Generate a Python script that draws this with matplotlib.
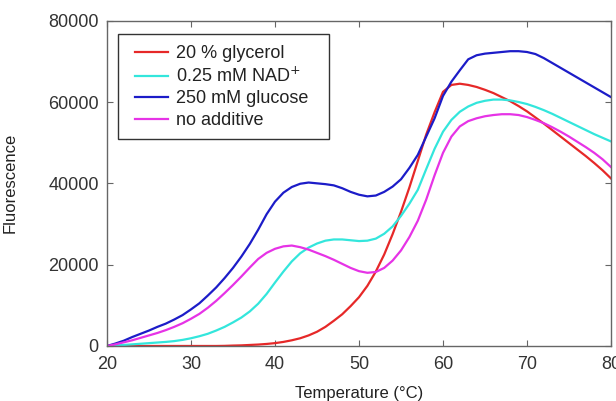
import numpy as np
import matplotlib
matplotlib.use('Agg')
import matplotlib.pyplot as plt
from matplotlib.patches import Rectangle

plt.rcParams['font.family'] = ['Liberation Sans', 'DejaVu Sans']

# temperature in degrees C, one reading per degree
temp = np.arange(20, 81)

glycerol = [0, 0, 0, 0, 0, 0, 0, 0, 0, 0,
            0, 0, 0, 0, 30, 100, 150, 250, 350, 500,
            700, 1000, 1400, 1900, 2600, 3500, 4700, 6200, 7800, 9800,
            12000, 14800, 18300, 22500, 27500, 33000, 39000, 45500, 52000, 57500,
            62500, 64200, 64500, 64200, 63700, 63000, 62200, 61200, 60200, 59000,
            57700, 56200, 54700, 53100, 51500, 49900, 48300, 46700, 45000, 43200,
            41200]

nad = [0, 100, 250, 400, 550, 700, 850, 1000, 1200, 1500,
       1900, 2400, 3000, 3800, 4700, 5800, 7000, 8500, 10400, 12800,
       15600, 18300, 20800, 22800, 24200, 25200, 25900, 26200, 26200, 26000,
       25800, 25900, 26400, 27600, 29400, 32000, 35000, 38400, 43500, 48500,
       52700, 55600, 57600, 58900, 59800, 60300, 60600, 60600, 60400, 60000,
       59500, 58800, 58000, 57100, 56100, 55100, 54100, 53100, 52100, 51200,
       50300]

glucose = [0, 600, 1300, 2200, 3000, 3800, 4700, 5500, 6500, 7600,
           9000, 10500, 12400, 14400, 16700, 19200, 22000, 25100, 28600, 32400,
           35500, 37700, 39100, 39900, 40200, 40000, 39800, 39500, 38800, 37900,
           37200, 36800, 37000, 37900, 39200, 41000, 43800, 47000, 51500, 56000,
           61500, 65000, 67800, 70500, 71500, 71900, 72100, 72300, 72500, 72500,
           72300, 71800, 70800, 69600, 68400, 67200, 66000, 64800, 63600, 62400,
           61200]

no_additive = [0, 400, 900, 1400, 2000, 2600, 3200, 3900, 4700, 5600,
               6700, 7900, 9400, 11100, 13000, 15000, 17100, 19300, 21400, 22900,
               23900, 24500, 24700, 24300, 23700, 22900, 22100, 21200, 20200, 19200,
               18400, 18000, 18200, 19200, 21000, 23500, 26800, 30800, 36000, 42000,
               47500, 51500, 54000, 55300, 56000, 56500, 56800, 57000, 57000, 56800,
               56300, 55600, 54800, 53800, 52700, 51500, 50200, 48900, 47500, 45900,
               44000]

series = [
    (glycerol, '20 % glycerol', '#e62828'),
    (nad, '0.25 mM NAD$^{+}$', '#33e6dc'),
    (glucose, '250 mM glucose', '#1c1cc8'),
    (no_additive, 'no additive', '#e633e6'),
]

fig = plt.figure(figsize=(6.16, 4.01), dpi=100)
ax = fig.add_axes([0.1737, 0.1372, 0.8182, 0.8112])

for vals, lab, col in series:
    ax.plot(temp, vals, color=col, lw=1.6, label=lab)

ax.set_xlim(20, 80)
ax.set_ylim(0, 80000)
ax.set_xticks([20, 30, 40, 50, 60, 70, 80])
ax.set_yticks([0, 20000, 40000, 60000, 80000])

for sp in ax.spines.values():
    sp.set_color('#666666')
    sp.set_linewidth(1.0)
ax.tick_params(direction='in', top=True, right=True, length=4, width=0.8,
               color='#666666', labelsize=13, labelcolor='#333333')
ax.tick_params(axis='y', pad=6)
ax.tick_params(axis='x', pad=7)

ax.set_xlabel('Temperature (°C)', fontsize=12, color='#222222')
ax.set_ylabel('Fluorescence', fontsize=12, color='#222222')
ax.xaxis.set_label_coords(0.5, -0.123)
ax.yaxis.set_label_coords(-0.177, 0.5)

# legend box drawn separately so it can be wider than its text
ax.add_patch(Rectangle((0.0218, 0.6363), 0.4187, 0.3228, transform=ax.transAxes,
                       fill=True, facecolor='white', edgecolor='#333333',
                       lw=1.0, zorder=4))
leg = ax.legend(loc='upper left', bbox_to_anchor=(0.0556, 0.925),
                borderaxespad=0, borderpad=0, fontsize=13, frameon=False,
                handlelength=1.8, handletextpad=0.45, labelspacing=0.25)
leg.set_zorder(5)
for t in leg.get_texts():
    t.set_color('#222222')

fig.savefig('out.png', dpi=100)
